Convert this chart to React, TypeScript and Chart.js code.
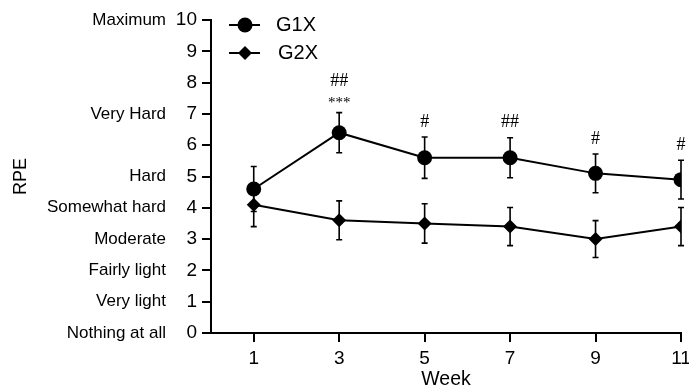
import React, { useEffect, useRef } from 'react';
import { Chart, registerables } from 'chart.js';

Chart.register(...registerables);

const weeks = [1, 3, 5, 7, 9, 11];
const g1xMean = [4.6, 6.4, 5.6, 5.6, 5.1, 4.9];
const g1xErr = [0.72, 0.64, 0.66, 0.64, 0.62, 0.62];
const g2xMean = [4.1, 3.6, 3.5, 3.4, 3.0, 3.4];
const g2xErr = [0.7, 0.62, 0.63, 0.61, 0.59, 0.61];
const hashMarks = ['', '##', '#', '##', '#', '#'];
const starMarks = ['', '***', '', '', '', ''];
const rpeValues = [0, 1, 2, 3, 4, 5, 7, 10];
const rpeNames = ['Nothing at all', 'Very light', 'Fairly light', 'Moderate', 'Somewhat hard', 'Hard', 'Very Hard', 'Maximum'];
const seriesNames = ['G1X', 'G2X'];

const FONT = "'Liberation Sans', Arial, sans-serif";
const SERIF = "'Liberation Serif', 'Times New Roman', serif";

const errorBarPlugin = {
  id: 'errorBars',
  beforeDatasetsDraw(chart: any) {
    const ctx = chart.ctx;
    const xs = chart.scales.x;
    const ys = chart.scales.y;
    const sets = [
      { m: g1xMean, e: g1xErr },
      { m: g2xMean, e: g2xErr },
    ];
    ctx.save();
    ctx.strokeStyle = '#000';
    ctx.lineWidth = 1.6;
    sets.forEach((s) => {
      weeks.forEach((w, i) => {
        const px = xs.getPixelForValue(w);
        const top = ys.getPixelForValue(s.m[i] + s.e[i]);
        const bot = ys.getPixelForValue(s.m[i] - s.e[i]);
        ctx.beginPath();
        ctx.moveTo(px, top);
        ctx.lineTo(px, bot);
        ctx.moveTo(px - 3, top);
        ctx.lineTo(px + 3, top);
        ctx.moveTo(px - 3, bot);
        ctx.lineTo(px + 3, bot);
        ctx.stroke();
      });
    });
    ctx.restore();
  },
  afterDraw(chart: any) {
    const ctx = chart.ctx;
    const xs = chart.scales.x;
    const ys = chart.scales.y;
    const area = chart.chartArea;
    ctx.save();
    ctx.fillStyle = '#000';
    // RPE verbal labels
    ctx.font = `17px ${FONT}`;
    ctx.textAlign = 'right';
    ctx.textBaseline = 'middle';
    rpeValues.forEach((v, i) => {
      ctx.fillText(rpeNames[i], area.left - 45, ys.getPixelForValue(v));
    });
    // significance marks
    ctx.textAlign = 'center';
    weeks.forEach((w, i) => {
      const px = xs.getPixelForValue(w);
      const cap = ys.getPixelForValue(g1xMean[i] + g1xErr[i]);
      if (starMarks[i]) {
        ctx.font = `15px ${SERIF}`;
        ctx.fillText(starMarks[i], px, cap - 10);
      }
      if (hashMarks[i]) {
        ctx.font = `18px ${SERIF}`;
        ctx.fillText(hashMarks[i], px, starMarks[i] ? cap - 31 : cap - 15);
      }
    });
    // legend
    const lx = area.left + 34;
    const rows = [area.top + 5, area.top + 33];
    ctx.strokeStyle = '#000';
    ctx.lineWidth = 2;
    rows.forEach((ry, i) => {
      ctx.beginPath();
      ctx.moveTo(lx - 16, ry);
      ctx.lineTo(lx + 15, ry);
      ctx.stroke();
      ctx.beginPath();
      if (i === 0) {
        ctx.arc(lx, ry, 7.5, 0, Math.PI * 2);
      } else {
        const r = 7;
        ctx.moveTo(lx, ry - r);
        ctx.lineTo(lx + r, ry);
        ctx.lineTo(lx, ry + r);
        ctx.lineTo(lx - r, ry);
        ctx.closePath();
      }
      ctx.fill();
      ctx.font = `20px ${FONT}`;
      ctx.textAlign = 'left';
      ctx.textBaseline = 'middle';
      ctx.fillText(seriesNames[i], lx + 31 + i * 2, ry);
    });
    ctx.restore();
  },
};

export default function App() {
  const ref = useRef<HTMLCanvasElement | null>(null);
  useEffect(() => {
    if (!ref.current) return;
    Chart.defaults.font.family = FONT;
    Chart.defaults.color = '#000';
    const chart = new Chart(ref.current, {
      type: 'line',
      data: {
        datasets: [
          {
            label: seriesNames[0],
            data: weeks.map((w, i) => ({ x: w, y: g1xMean[i] })),
            borderColor: '#000',
            backgroundColor: '#000',
            borderWidth: 2,
            pointStyle: 'circle',
            pointRadius: 7.5,
            pointBorderWidth: 0,
            pointBackgroundColor: '#000',
          },
          {
            label: seriesNames[1],
            data: weeks.map((w, i) => ({ x: w, y: g2xMean[i] })),
            borderColor: '#000',
            backgroundColor: '#000',
            borderWidth: 2,
            pointStyle: 'rectRot',
            pointRadius: 7,
            pointBorderWidth: 0,
            pointBackgroundColor: '#000',
          },
        ],
      },
      options: {
        responsive: true,
        maintainAspectRatio: false,
        animation: false,
        layout: { padding: { top: 20, right: 8, left: 0, bottom: 0 } },
        plugins: { legend: { display: false }, tooltip: { enabled: false } },
        scales: {
          x: {
            type: 'linear',
            min: 0,
            max: 11,
            afterBuildTicks: (scale: any) => {
              scale.ticks = weeks.map((v) => ({ value: v }));
            },
            afterFit: (scale: any) => {
              scale.height = 57;
              scale.paddingLeft = 0;
              scale.paddingRight = 0;
            },
            ticks: { font: { size: 19 }, color: '#000', padding: 5, maxRotation: 0 },
            grid: { drawOnChartArea: false, tickLength: 9, color: '#000', lineWidth: 2 },
            border: { color: '#000', width: 2 },
            title: { display: true, text: 'Week', font: { size: 19.5 }, color: '#000', padding: { top: 0, bottom: -1 } },
          },
          y: {
            type: 'linear',
            min: 0,
            max: 10,
            afterFit: (scale: any) => {
              scale.width = 211;
            },
            ticks: { stepSize: 1, font: { size: 19 }, color: '#000', padding: 5 },
            grid: { drawOnChartArea: false, tickLength: 9, color: '#000', lineWidth: 2 },
            border: { color: '#000', width: 2 },
            title: { display: true, text: 'RPE', font: { size: 18 }, color: '#000', padding: { top: 10, bottom: 0 } },
          },
        },
      },
      plugins: [errorBarPlugin],
    } as any);
    return () => chart.destroy();
  }, []);
  return (
    <div style={{ position: 'absolute', left: 0, top: 0, width: 689, height: 390 }}>
      <canvas ref={ref} />
    </div>
  );
}
